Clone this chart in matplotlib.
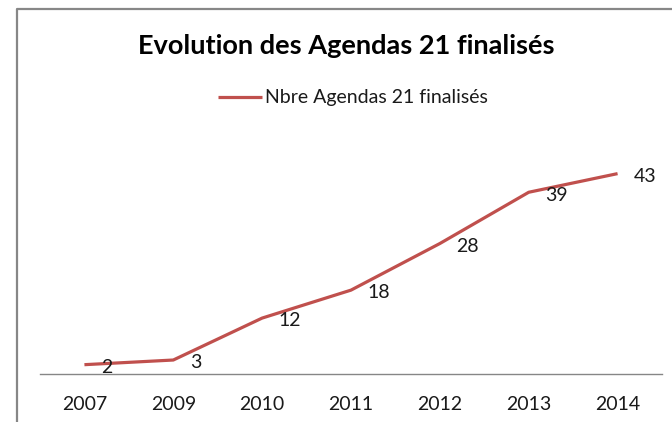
import numpy as np
import matplotlib.pyplot as plt
from matplotlib.lines import Line2D

plt.rcParams["font.family"] = ["Lato", "DejaVu Sans"]

## data
years = ["2007", "2009", "2010", "2011", "2012", "2013", "2014"]
nb_agendas = [2, 3, 12, 18, 28, 39, 43]
serie_label = "Nbre Agendas 21 finalisés"
title = "Evolution des Agendas 21 finalisés"

W, H = 672, 422
fig = plt.figure(figsize=(W/100, H/100), dpi=100)

# plot area (pixels measured on the reference)
left, right, bottom, top = 40, 662, 374, 141
ax = fig.add_axes([left/W, 1-bottom/H, (right-left)/W, (bottom-top)/H])

x = np.arange(len(years))
ax.plot(x, nb_agendas, color="#C0504D", lw=2.3, solid_capstyle="butt",
        solid_joinstyle="round", label=serie_label)
for xi, v in zip(x, nb_agendas):
    ax.annotate(str(v), (xi, v), xytext=(12, -2), textcoords="offset points",
                ha="left", va="center", fontsize=14, color="#1a1a1a")

ax.set_xlim(-0.5, len(years)-0.5)
ax.set_ylim(0, 50)
ax.set_xticks(x)
ax.set_xticklabels(years, fontsize=14, color="#1a1a1a")
ax.set_yticks([])
ax.tick_params(axis="x", length=0, pad=16)
for s in ["left", "right", "top"]:
    ax.spines[s].set_visible(False)
ax.spines["bottom"].set_color("#868686")
ax.spines["bottom"].set_linewidth(1)

### -- title and legend
fig.text(346/W, 1-54/H, title, ha="center", va="baseline", fontsize=19.5,
         fontweight="bold", color="black")
ax.legend(loc="center", bbox_to_anchor=(353/W, 1-98/H), bbox_transform=fig.transFigure,
          frameon=False, fontsize=14, handlelength=2.25, handletextpad=0.15,
          labelcolor="#1a1a1a")

### -- chart border (cut by the image on right and bottom)
bx, by = 16.5/W, 1-9/H
fig.add_artist(Line2D([bx, bx, 1.0], [0.0, by, by], transform=fig.transFigure,
                      color="#878787", lw=1.6))

fig.savefig("out.png", dpi=100)
